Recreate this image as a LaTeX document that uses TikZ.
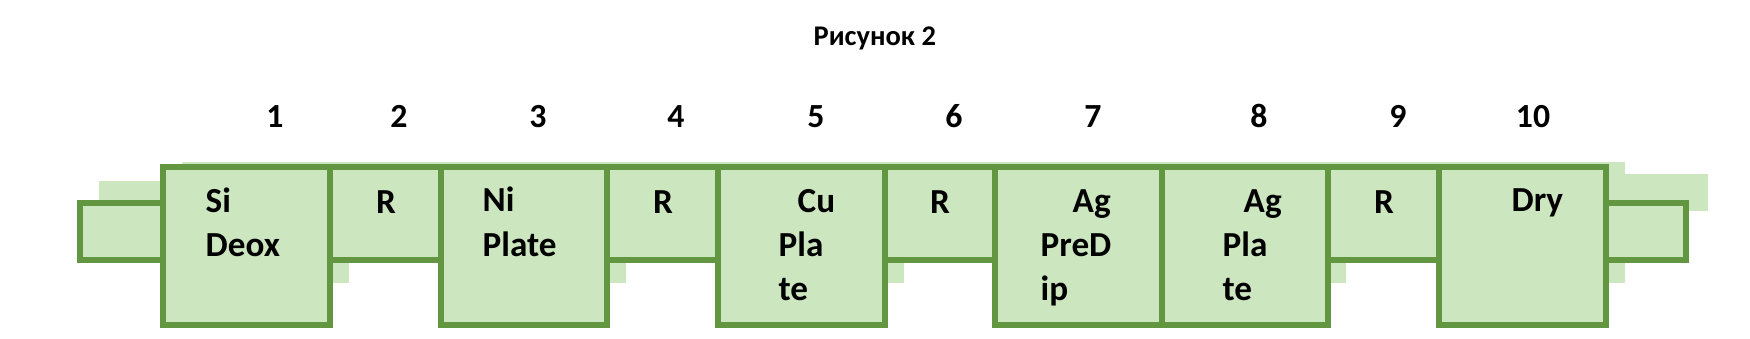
\documentclass[tikz,border=0pt]{standalone}
\usepackage{fontspec}
\setmainfont{Carlito}
\usepackage{tikz}

\definecolor{bathfill}{RGB}{204,230,192}
\definecolor{bathline}{RGB}{98,150,64}

\begin{document}
\begin{tikzpicture}[x=0.01cm,y=-0.01cm,
  bath/.style={draw=bathline,fill=bathfill,line width=1.7pt},
  lbl/.style={anchor=base west,inner sep=0pt,font=\bfseries\fontsize{10}{12}\selectfont},
  rlbl/.style={lbl,anchor=base},
  numlbl/.style={rlbl,font=\bfseries\fontsize{9.6}{11}\selectfont}]
\useasboundingbox (0,0) rectangle (1750,338);
% pale shadow behind the line of baths
\fill[bathfill] (182,162) rectangle (1625,166);
\fill[bathfill] (99,181) rectangle (170,210);
\fill[bathfill] (1608,174) rectangle (1708,211);
\fill[bathfill] (1600,162) rectangle (1625,283);
\foreach \x in {333,610,888,1330}
  \fill[bathfill] (\x,255) rectangle (\x+16,283);
% entry and exit stubs
\draw[bath] (80,203) rectangle (200,260);
\draw[bath] (1560,203) rectangle (1686,260);
% rinse tanks
\draw[bath] (330,167) rectangle (441,260);
\draw[bath] (607,167) rectangle (718,260);
\draw[bath] (885,167) rectangle (995,260);
\draw[bath] (1328,167) rectangle (1439,260);
% process tanks
\draw[bath] (163,167) rectangle (330,325);
\draw[bath] (441,167) rectangle (607,325);
\draw[bath] (718,167) rectangle (885,325);
\draw[bath] (995,167) rectangle (1162,325);
\draw[bath] (1162,167) rectangle (1328,325);
\draw[bath] (1439,167) rectangle (1606,325);
% labels
\node[lbl] (si) at (205,212) {Si};
\node[lbl] (deox) at (205,256) {Deox};
\node[rlbl] (r2) at (386,213) {R};
\node[lbl] (ni) at (482,211) {Ni};
\node[lbl] (niplate) at (482,256) {Plate};
\node[rlbl] (r4) at (663,213) {R};
\node[lbl] (cu) at (797,212) {Cu};
\node[lbl] (cupla) at (778,256) {Pla};
\node[lbl] (cute) at (778,300) {te};
\node[rlbl] (r6) at (940,213) {R};
\node[lbl] (agdip) at (1072,212) {Ag};
\node[lbl] (agpred) at (1040,256) {PreD};
\node[lbl] (agip) at (1040,300) {ip};
\node[lbl] (ag) at (1243,212) {Ag};
\node[lbl] (agpla) at (1222,256) {Pla};
\node[lbl] (agte) at (1222,300) {te};
\node[rlbl] (r9) at (1384,213) {R};
\node[lbl] (dry) at (1511,211) {Dry};
% bath numbers and caption
\foreach \x/\n in {275/1,399/2,538/3,676/4,816/5,954/6,1093/7,1259/8,1398/9,1533/10}
  \node[numlbl] (num\n) at (\x,127) {\n};
\node[lbl,font=\bfseries\fontsize{8.1}{10}\selectfont] (title) at (813,45) {Рисунок 2};
\end{tikzpicture}
\end{document}
